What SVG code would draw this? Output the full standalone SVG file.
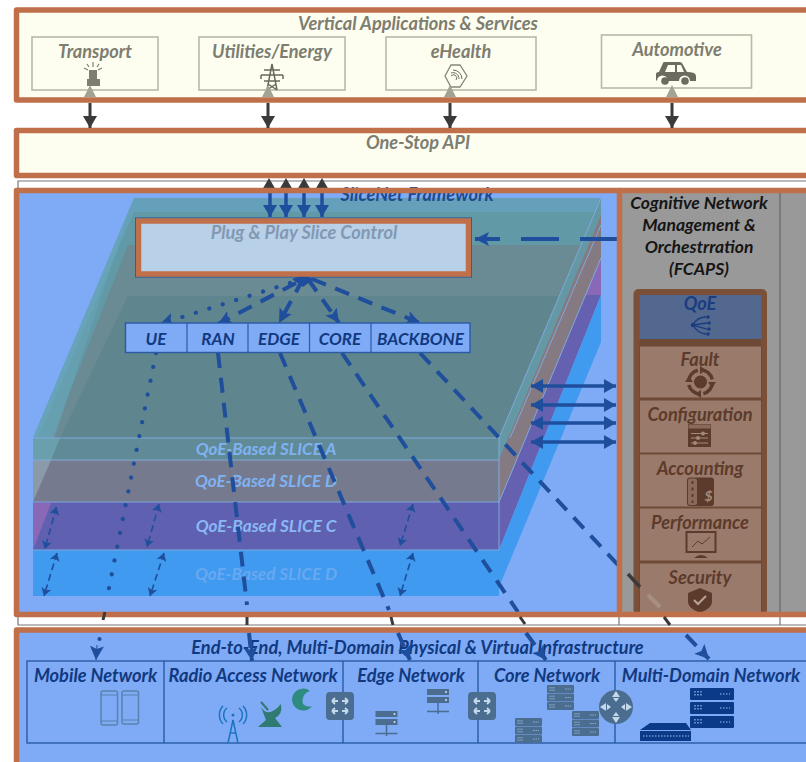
<svg xmlns="http://www.w3.org/2000/svg" width="806" height="762" viewBox="0 0 806 762">
<style>
text{font-family:"Lato","Open Sans","Liberation Sans",sans-serif;font-weight:700;font-style:italic;text-anchor:middle;font-size:18.2px}
.band{stroke:#bf6f4a;stroke-width:5.5;stroke-linejoin:round}
.cream{fill:#fefef0}
.app{fill:#fefef0;stroke:#b9b9a9;stroke-width:1.6}
.gt{fill:#7d7d70}
.nv{fill:#10397f}
.sl{fill:#7fb2f2;font-size:17.2px}
.fc{fill:#5c3b2c;font-size:18.2px}
.cell{fill:#9a7a6a;stroke:#6e4a36;stroke-width:1}
.dash{fill:none;stroke:#1f4f9c;stroke-width:4;stroke-dasharray:15 10}
.dot{fill:none;stroke:#1f4f9c;stroke-width:4.2;stroke-linecap:round;stroke-dasharray:.1 14}
.thin{fill:none;stroke:#1f4f9c;stroke-width:1.6;stroke-dasharray:7 4;marker-start:url(#hs);marker-end:url(#he)}
.bi{stroke:#1f4f9c;stroke-width:3.5;marker-start:url(#hb);marker-end:url(#hf)}
.dn{stroke:#1f4f9c;stroke-width:3.5;marker-end:url(#blue)}
.dk{stroke:#3a3a3a;stroke-width:3;marker-end:url(#dk)}
.lyr{fill:none;stroke:#7fa9dc;stroke-width:1}
.tb{fill:#7faaf6;stroke:#2a5aa6;stroke-width:1.4}
.ic{fill:#4a6d90}
</style>
<defs>
<marker id="ah" markerUnits="userSpaceOnUse" markerWidth="16" markerHeight="16" refX="14" refY="8" orient="auto"><path d="M0 1L14 8L0 15L3 8Z" fill="#1f4f9c"/></marker>
<marker id="hf" markerUnits="userSpaceOnUse" markerWidth="14" markerHeight="16" refX="12" refY="8" orient="auto"><path d="M0 1L12 8L0 15Z" fill="#1f4f9c"/></marker>
<marker id="hb" markerUnits="userSpaceOnUse" markerWidth="14" markerHeight="16" refX="0" refY="8" orient="auto"><path d="M12 1L0 8L12 15Z" fill="#1f4f9c"/></marker>
<marker id="he" markerUnits="userSpaceOnUse" markerWidth="9" markerHeight="10" refX="8" refY="5" orient="auto"><path d="M0 0L8 5L0 10L2 5Z" fill="#1f4f9c"/></marker>
<marker id="hs" markerUnits="userSpaceOnUse" markerWidth="9" markerHeight="10" refX="0" refY="5" orient="auto"><path d="M8 0L0 5L8 10L6 5Z" fill="#1f4f9c"/></marker>
<marker id="dk" markerUnits="userSpaceOnUse" markerWidth="14" markerHeight="14" refX="12" refY="7" orient="auto"><path d="M0 0L12 7L0 14Z" fill="#3a3a3a"/></marker>
<marker id="blue" markerUnits="userSpaceOnUse" markerWidth="14" markerHeight="14" refX="12" refY="7" orient="auto"><path d="M0 0L12 7L0 14Z" fill="#1f4f9c"/></marker>
<g id="rack"><rect width="27" height="8" rx="1" class="ic"/><rect y="8.500" width="27" height="8" rx="1" class="ic"/><rect y="17" width="27" height="8" rx="1" class="ic"/><path d="M3 2v4M5 2v4M7 2v4M3 10.500v4M5 10.500v4M7 10.500v4M3 19v4M5 19v4M7 19v4M18 4h6M18 12.500h6M18 21h6" stroke="#8fb0cf" stroke-width="1" stroke-dasharray="1.500 1"/></g>
<g id="srv"><rect width="22" height="6" class="ic"/><rect y="8" width="22" height="6" class="ic"/><circle cx="19" cy="3" r="1" fill="#cfe0f0"/><circle cx="19" cy="11" r="1" fill="#cfe0f0"/><path d="M0 22.500H22M11 14v11" stroke="#4a6d90" stroke-width="1.500"/></g>
<g id="sw"><rect width="28" height="28" rx="4" class="ic"/><path d="M12 9H6M6 9l3-3M6 9l3 3M16 9h6M22 9l-3-3M22 9l-3 3M12 19H6M6 19l3-3M6 19l3 3M16 19h6M22 19l-3-3M22 19l-3 3" stroke="#c4d8ec" stroke-width="1.800" fill="none"/></g>
</defs>
<rect width="806" height="762" fill="#fff"/>

<g id="frame"><path d="M18 188V181H806M18 613V625H806M619 613V625M780 613V625" fill="none" stroke="#777" stroke-width="1.200"/></g>

<g id="vertical-applications">
<rect class="band cream" x="16.500" y="10" width="800" height="90"/>
<text class="gt" x="418" y="30">Vertical Applications &amp; Services</text>
</g>
<g id="transport"><rect class="app" x="32" y="37" width="126" height="53"/><text class="gt" x="95" y="58">Transport</text>
<path d="M89 70h8v9h3v7H87v-7h2z" fill="#7d7d70"/><path d="M84 68l4 2M102 68l-4 2M93 62v5M87 64l2 3M99 64l-2 3" fill="none" stroke="#7d7d70" stroke-width="1.200"/></g>
<g id="utilities"><rect class="app" x="199" y="37" width="146" height="53"/><text class="gt" x="272" y="58">Utilities/Energy</text>
<path d="M272 64L267 90M272 64L277 90M264 70H280M261 75H283M264 81H280M267 90L276 84M277 90L268 84M261 75v4M283 75v4" fill="none" stroke="#68685c" stroke-width="1.500"/></g>
<g id="ehealth"><rect class="app" x="386" y="37" width="150" height="53"/><text class="gt" x="461" y="58">eHealth</text>
<path d="M451 65H460L467 76L460 87H451L445 76Z" fill="none" stroke="#85857a" stroke-width="1.300"/><path d="M451 73a6 6 0 0 1 8 6M453 70a9 9 0 0 1 9 9M451 76a3 3 0 0 1 5 4" fill="none" stroke="#68685c"/></g>
<g id="automotive"><rect class="app" x="601.500" y="35" width="150" height="53"/><text class="gt" x="677" y="56">Automotive</text>
<path d="M656 80V74q0-2 3-2l4-9q0-1 2-1h14q2 0 3 1l5 9q9 0 9 4v5h-6a5 5 0 0 0-11 0h-11a5 5 0 0 0-11 0Z" fill="#6b6b60"/><path d="M665 72l3-7h7v7ZM677 72v-7h4l3 7Z" fill="#fefef0"/><circle cx="665" cy="81" r="3.800" fill="#6b6b60"/><circle cx="685" cy="81" r="3.800" fill="#6b6b60"/></g>

<g id="one-stop-api">
<rect class="band cream" x="16.500" y="130.500" width="800" height="45"/>
<text class="gt" x="418" y="149">One-Stop API</text>
</g>

<g id="slice-panel-bg"><rect x="16.500" y="190.500" width="603" height="424" fill="#7faaf6"/></g>
<g id="slices">
<path d="M134 198H601L499 438H33Z" fill="#64a0ba"/>
<path d="M134 212H601L499 450H33Z" fill="#6297a3" opacity=".8"/>
<path d="M128 245H601L499 485H33Z" fill="#6a8a94"/>
<path d="M128 296H601L499 438H60Z" fill="#5f858f"/>
<path d="M134 198L33 438V502Z" fill="#6aa5b8" opacity=".55"/>
<path d="M499 438L601 198V245L499 460Z" fill="#6598a5"/>
<path d="M499 460L601 215V258L499 502Z" fill="#857a82"/>
<path d="M499 502L601 258V295H585.500Z" fill="#8a68b8"/>
<path d="M499 502L585.500 295H601L499 550Z" fill="#6660b0"/>
<path d="M499 550L601 295V342L499 587V596Z" fill="#3f9af0"/>
<rect x="33" y="438" width="466" height="22" fill="#5f8a96"/>
<path d="M33 460V438H60L51 460Z" fill="#6aa0ae"/>
<rect x="33" y="460" width="466" height="42" fill="#757a8e"/>
<path d="M33 502L51 460H33Z" fill="#8a9aa8"/>
<rect x="33" y="502" width="466" height="48" fill="#6060b0"/>
<path d="M33 550L51 503H33Z" fill="#8a68b8"/>
<rect x="33" y="550" width="466" height="46" fill="#3f9af0"/>
<path class="lyr" d="M33 438H499V550M33 460H499M33 502H499M33 550H499M499 438L601 198M510 438L601 225M499 502L601 258"/>
<text class="sl" x="266" y="455">QoE-Based SLICE A</text>
<text class="sl" x="266" y="487">QoE-Based SLICE D</text>
<text class="sl" x="266" y="532" style="fill:#8ab8f5">QoE-Based SLICE C</text>
<text class="sl" x="266" y="580" style="fill:#68a8f0">QoE-Based SLICE D</text>
</g>
<g id="slicenet-title"><text class="nv" x="417" y="201" style="fill:#1c4a8f">SliceNet Framework</text></g>

<g id="cognitive-panel">
<rect x="621" y="190" width="190" height="423" fill="#999"/>
<path d="M780 193V612" stroke="#666" stroke-width="1.200"/>
<text x="699" y="209" style="fill:#151515;font-size:17.5px">Cognitive Network</text><text x="699" y="231" style="fill:#151515;font-size:17.5px">Management &amp;</text><text x="699" y="253" style="fill:#151515;font-size:17.5px">Orchestrration</text><text x="699" y="275" style="fill:#151515;font-size:17.5px">(FCAPS)</text>
</g>
<g id="fcaps"><rect x="636.500" y="292" width="127.500" height="320" rx="2" fill="#6e4a36" stroke="#7a5038" stroke-width="6"/></g>
<g id="qoe"><rect x="639.500" y="295" width="122" height="44" fill="#52688f"/><text class="nv" x="700" y="310" style="fill:#1a3d80">QoE</text>
<g fill="#1a3d80"><circle cx="693" cy="325" r="2.200"/><circle cx="708" cy="317" r="1.800"/><circle cx="709" cy="323" r="1.800"/><circle cx="709" cy="329" r="1.800"/><circle cx="708" cy="334" r="1.800"/></g><path d="M693 325Q697 317 706 317M693 325L707 323M693 325L707 329M693 325Q697 333 706 334" stroke="#1a3d80" stroke-width="1.300" fill="none"/></g>
<g id="fault"><rect class="cell" x="639.500" y="346" width="122" height="52"/><text class="fc" x="700" y="366">Fault</text>
<circle cx="700.500" cy="382" r="6.500" fill="#5c3b2c"/><circle cx="700.500" cy="382" r="12" fill="none" stroke="#5c3b2c" stroke-width="3.500" stroke-dasharray="15.800 3"/><path d="M700 366l6 4l-6 4ZM716 382l-4 6l-4-6ZM701 398l-6-4l6-4ZM685 382l4-6l4 6Z" fill="#5c3b2c"/></g>
<g id="configuration"><rect class="cell" x="639.500" y="400" width="122" height="53"/><text class="fc" x="700" y="421">Configuration</text>
<rect x="688" y="424" width="23" height="23" fill="#5c3b2c"/><rect x="688.500" y="424.500" width="22" height="4" fill="#8a6a58"/><path d="M691 433.500H708M691 438H708M691 443H708" stroke="#a48a78" stroke-width="1.200"/><circle cx="703" cy="433.500" r="2" fill="#a48a78"/><circle cx="698" cy="438" r="2" fill="#a48a78"/><circle cx="695" cy="443" r="2" fill="#a48a78"/></g>
<g id="accounting"><rect class="cell" x="639.500" y="454" width="122" height="53"/><text class="fc" x="700" y="475">Accounting</text>
<rect x="687" y="477.500" width="27" height="28.500" rx="3" fill="#5c3b2c"/><rect x="688" y="478.500" width="9" height="26.500" rx="2" fill="#8a6a58"/><path d="M692.500 481v22" stroke="#5c3b2c" stroke-width="2" stroke-dasharray="3 3.500"/><text x="708.500" y="501" style="fill:#a48a78;font-size:14px">$</text></g>
<g id="performance"><rect class="cell" x="639.500" y="508" width="122" height="53"/><text class="fc" x="700" y="529">Performance</text>
<rect x="686.500" y="532" width="29" height="20" fill="none" stroke="#5c3b2c" stroke-width="2"/><path d="M692 547l6-6l4 3l8-7" fill="none" stroke="#5c3b2c"/><path d="M694 558q7-6 14 0Z" fill="#5c3b2c"/></g>
<g id="security"><rect class="cell" x="639.500" y="563" width="122" height="50"/><text class="fc" x="700" y="584">Security</text>
<path d="M700 588l12 5v9q0 6-12 11q-12-5-12-11v-9Z" fill="#5c3b2c"/><path d="M694 600l4 4l8-8" fill="none" stroke="#b9a494" stroke-width="2"/></g>

<g id="connectors">
<path class="dk" d="M90 103V128"/><path class="dk" d="M268 103V128"/><path class="dk" d="M450 103V128"/><path class="dk" d="M672 103V128"/>
<path d="M90 85l-6 12h12ZM268 85l-6 12h12ZM450 85l-6 12h12ZM672 85l-6 12h12Z" fill="#a3a394"/>
<path d="M262 190l7-12l7 12ZM279 190l7-12l7 12ZM297 190l7-12l7 12ZM315 190l7-12l7 12Z" fill="#3a3a3a"/>
<path class="dn" d="M270 192V217"/><path class="dn" d="M286 192V217"/><path class="dn" d="M304 192V217"/><path class="dn" d="M322 192V217"/>
<path d="M618 239H475" class="dash" style="stroke-dasharray:38 21" marker-end="url(#ah)"/>
<path d="M290 283L160 324" class="dot" marker-end="url(#ah)"/>
<path d="M296 283L218 324" class="dash" marker-end="url(#ah)"/>
<path d="M303 279L279 323" class="dash" marker-end="url(#ah)"/>
<path d="M308 279L339 323" class="dash" marker-end="url(#ah)"/>
<path d="M312 279L420 323" class="dash" marker-end="url(#ah)"/>
<path d="M292 279l11-4l11 4l-11 8Z" fill="#1f4f9c"/>
<path d="M156 353L107 598" class="dot"/>
<path d="M218 353L247 605" class="dash"/>
<path d="M280 353L389 610" class="dash"/>
<path d="M342 353L518 612" class="dash"/>
<path d="M420 353L618 565" class="dash"/>
<path class="bi" d="M531 386H616"/><path class="bi" d="M531 405H616"/><path class="bi" d="M531 423H616"/><path class="bi" d="M531 442H616"/>
<path class="thin" d="M56.500 507L44.700 549"/><path class="thin" d="M159 504L147 547"/><path class="thin" d="M413 504L400 546"/>
<path class="thin" d="M57 553L44 596"/><path class="thin" d="M164 553L150 596"/><path class="thin" d="M413 553L400 596"/>
<path d="M628 574L640 587" stroke="#3a3a3a" stroke-width="3.500"/>
<path d="M648 595L660 607" stroke="#a89080" stroke-width="4"/>
</g>

<g id="slice-panel-border"><rect class="band" x="16.500" y="190.500" width="603" height="424" fill="none"/><path d="M619 190.500H806M619 614.500H806" class="band" fill="none"/></g>

<g id="plug-and-play"><rect x="135.500" y="218" width="336" height="59" fill="none" stroke="#1f4f9c" stroke-width="1"/><rect x="138.500" y="221" width="330" height="53" fill="#b8d0e8" stroke="#bf6f4a" stroke-width="5.500"/><text x="304" y="239" style="fill:#8399b3">Plug &amp; Play Slice Control</text></g>
<g id="domains">
<rect class="tb" x="125.500" y="323" width="344.500" height="29.500"/>
<path d="M187 323V352.500M248 323V352.500M309.500 323V352.500M371 323V352.500" stroke="#2a5aa6" stroke-width="1.200"/>
<g id="ue"><text class="nv" x="156" y="345" style="font-size:17px">UE</text></g>
<g id="ran"><text class="nv" x="218" y="345" style="font-size:17px">RAN</text></g>
<g id="edge"><text class="nv" x="279" y="345" style="font-size:17px">EDGE</text></g>
<g id="core"><text class="nv" x="340" y="345" style="font-size:17px">CORE</text></g>
<g id="backbone"><text class="nv" x="420.500" y="345" style="font-size:17px">BACKBONE</text></g>
</g>

<g id="infrastructure">
<rect class="band" x="16.500" y="630" width="800" height="150" fill="#7faaf6"/>
<text class="nv" x="417.500" y="654">End-to-End, Multi-Domain Physical &amp; Virtual Infrastructure</text>
<rect x="27" y="661" width="780" height="82" fill="none" stroke="#2a5aa6" stroke-width="1.400"/>
<path d="M164 661V743M343 661V743M478 661V743M615 661V743" stroke="#2a5aa6" stroke-width="1.400"/>
</g>
<g id="mobile-network"><text class="nv" x="95.500" y="682">Mobile Network</text>
<g fill="none" stroke="#5a82ac" stroke-width="1.500"><rect x="101" y="691" width="16.500" height="34" rx="2"/><rect x="122" y="691" width="16.500" height="33" rx="2"/><path d="M101 695h16.500M101 721h16.500M122 695h16.500M122 720h16.500" stroke-width="1"/></g></g>
<g id="radio-access-network"><text class="nv" x="253" y="682">Radio Access Network</text>
<path d="M233 720L228 743M233 720L238 743M230 733H236M227 722a9 9 0 0 1 0-14M239 722a9 9 0 0 0 0-14M223 724a13 13 0 0 1 0-18M243 724a13 13 0 0 0 0-18" fill="none" stroke="#1b74c0" stroke-width="1.500"/><circle cx="233" cy="715" r="1.500" fill="#1b74c0"/>
<path d="M261 707q7 12 20-3q2 10-6 14l7 9h-24l8-7Z" fill="#2f7a72"/><path d="M261 702l7 8" stroke="#2f7a72" stroke-width="2"/>
<path d="M310 691a11 11 0 1 0 2 15a9 9 0 0 1-9-2a10 10 0 0 1 7-13Z" fill="#2f8a82"/>
<use href="#sw" x="326" y="692"/></g>
<g id="edge-network"><text class="nv" x="411" y="682">Edge Network</text>
<use href="#srv" x="375.500" y="711"/><use href="#srv" x="427" y="689"/><use href="#sw" x="468" y="692"/></g>
<g id="core-network"><text class="nv" x="547" y="682">Core Network</text>
<use href="#rack" x="515" y="718"/><use href="#rack" x="547" y="685"/><use href="#rack" x="572" y="711"/>
<circle cx="616" cy="707" r="17" class="ic"/><path d="M616 691l-4 6h8ZM616 723l-4-6h8ZM600 707l6-4v8ZM632 707l-6-4v8ZM616 702l-3-4h6ZM616 712l-3 4h6ZM611 707l-4-3v6ZM621 707l4-3v6Z" fill="#c4d8ec"/></g>
<g id="multi-domain-network"><text class="nv" x="711" y="682">Multi-Domain Network</text>
<g fill="#0a3a88"><rect x="690" y="688" width="44" height="12" rx="1"/><rect x="690" y="702" width="44" height="12" rx="1"/><rect x="690" y="716" width="44" height="12" rx="1"/><path d="M640 730L650 723H686L691 730Z"/><rect x="640" y="731" width="51" height="10"/></g>
<path d="M695 691v6M698 691v6M701 691v6M695 705v6M698 705v6M701 705v6M695 719v6M698 719v6M701 719v6M720 694h10M720 708h10M720 722h10M643 736h46" stroke="#9fc0f0" stroke-width="1.200" stroke-dasharray="1.500 1.500"/></g>

<g id="connectors-lower">
<path d="M105 612L103 620M247 617v8M391 617L393 625M520 617L525 624M664 617L670 625" stroke="#3a3a3a" stroke-width="3"/>
<circle cx="99.500" cy="639" r="2.100" fill="#1f4f9c"/>
<path d="M97 645L96 660" stroke="#1f4f9c" stroke-width="1" marker-end="url(#ah)"/>
<path d="M249 633L252 661" class="dash" marker-end="url(#ah)"/>
<path d="M398 633L410 660" class="dash" marker-end="url(#ah)"/>
<path d="M526 633L546 660" class="dash" marker-end="url(#ah)"/>
<path d="M686 635L709 659" class="dash" marker-end="url(#ah)"/>
</g>
</svg>
